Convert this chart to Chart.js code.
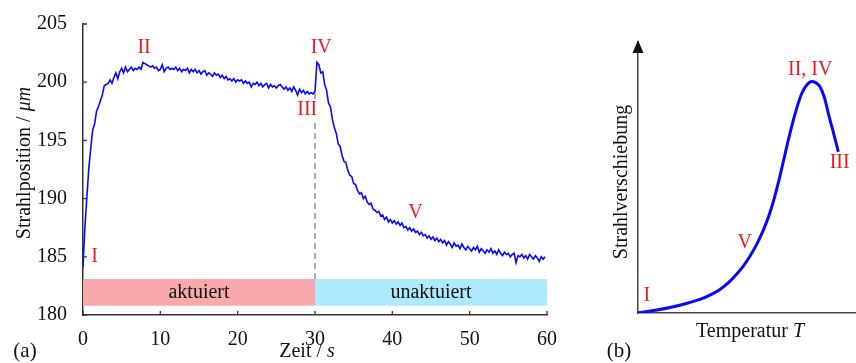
<!DOCTYPE html>
<html>
<head>
<meta charset="utf-8">
<script src="https://cdn.jsdelivr.net/npm/chart.js@4"></script>
<style>
  body { margin: 0; background: #fff; }
  #wrap { position: relative; width: 856px; height: 363px; }
  #chartA { position: absolute; left: 0; top: 0; }
  #chartB { position: absolute; left: 590px; top: 0; }
</style>
</head>
<body>
<div id="wrap">
  <canvas id="chartA" width="590" height="363"></canvas>
  <canvas id="chartB" width="266" height="363"></canvas>
</div>
<script>
// (a) Strahlposition ueber Zeit, abgetastet alle 0.25 s (0 .. 59.75 s)
var dt = 0.25;
var position = [
  184.1, 187.6, 190.1, 192.6,   // 0 s
  194.3, 195.9, 196.4, 197.5,   // 1 s
  197.9, 198.4, 198.9, 199.7,   // 2 s
  199.8, 199.9, 200.2, 199.9,   // 3 s
  200.4, 200.8, 200.3, 200.9,   // 4 s
  201.2, 200.8, 201.3, 200.9,   // 5 s
  201.1, 201.3, 201.0, 201.2,   // 6 s
  201.1, 201.3, 201.1, 201.7,   // 7 s
  201.6, 201.5, 201.4, 201.3,   // 8 s
  201.4, 201.2, 201.3, 201.0,   // 9 s
  201.1, 201.5, 200.9, 201.2,   // 10 s
  201.3, 201.1, 201.2, 201.1,   // 11 s
  201.3, 201.0, 201.2, 200.9,   // 12 s
  201.1, 201.0, 201.2, 200.8,   // 13 s
  201.1, 200.9, 201.1, 200.8,   // 14 s
  201.0, 200.7, 200.9, 201.0,   // 15 s
  200.6, 200.8, 200.7, 200.5,   // 16 s
  200.8, 200.6, 200.7, 200.4,   // 17 s
  200.6, 200.3, 200.5, 200.2,   // 18 s
  200.3, 200.1, 200.3, 200.0,   // 19 s
  200.2, 200.1, 200.2, 199.9,   // 20 s
  200.1, 199.9, 200.0, 199.6,   // 21 s
  199.9, 199.8, 200.0, 199.7,   // 22 s
  199.9, 199.6, 199.8, 199.9,   // 23 s
  199.5, 199.8, 199.6, 199.7,   // 24 s
  199.5, 199.7, 199.8, 199.6,   // 25 s
  199.4, 199.6, 199.3, 199.5,   // 26 s
  199.2, 199.6, 199.3, 198.9,   // 27 s
  199.4, 199.1, 199.3, 199.0,   // 28 s
  199.2, 199.0, 199.1, 199.0,   // 29 s
  199.2, 201.7, 201.5, 200.8,   // 30 s
  200.9, 199.8, 199.3, 198.2,   // 31 s
  197.9, 196.8, 196.1, 195.6,   // 32 s
  194.7, 194.5, 193.7, 193.2,   // 33 s
  193.1, 192.4, 192.0, 191.9,   // 34 s
  191.3, 191.2, 190.7, 190.4,   // 35 s
  190.5, 190.0, 190.2, 189.7,   // 36 s
  189.5, 189.6, 189.1, 189.0,   // 37 s
  188.8, 188.9, 188.5, 188.6,   // 38 s
  188.2, 188.4, 188.0, 188.2,   // 39 s
  187.9, 188.1, 187.8, 188.0,   // 40 s
  187.7, 187.9, 187.5, 187.6,   // 41 s
  187.3, 187.5, 187.2, 187.4,   // 42 s
  187.1, 187.2, 186.9, 187.1,   // 43 s
  186.8, 186.9, 186.6, 186.8,   // 44 s
  186.5, 186.7, 186.4, 186.6,   // 45 s
  186.3, 186.5, 186.2, 186.4,   // 46 s
  186.0, 186.3, 186.1, 185.8,   // 47 s
  186.2, 185.9, 186.0, 185.7,   // 48 s
  186.1, 185.8, 185.6, 185.9,   // 49 s
  185.7, 185.5, 185.8, 185.6,   // 50 s
  185.9, 185.4, 185.7, 185.5,   // 51 s
  185.3, 185.6, 185.4, 185.7,   // 52 s
  185.3, 185.5, 185.2, 185.6,   // 53 s
  185.3, 185.1, 185.4, 185.2,   // 54 s
  185.3, 185.0, 185.2, 185.3,   // 55 s
  184.5, 185.1, 185.0, 185.2,   // 56 s
  184.9, 185.1, 184.8, 185.2,   // 57 s
  185.0, 184.8, 185.1, 184.9,   // 58 s
  184.6, 185.0, 184.8, 185.0    // 59 s
];
var zeitTicks = [0, 10, 20, 30, 40, 50, 60];
var positionTicks = [180, 185, 190, 195, 200, 205];

// Phasen-Balken
var phasen = ['aktuiert', 'unaktuiert'];
var phasenStart = [0, 30];
var phasenEnde = [30, 60];
var phasenFarbe = ['#f9a9ab', '#adebfb'];
var balkenUnten = 180.8;
var balkenOben = 183.1;
var umschaltZeit = 30;
var umschaltOben = 199.1;

// Markierungen in (a)
var markenA = ['I', 'II', 'III', 'IV', 'V'];
var markenAx = [1.5, 7.9, 29.0, 30.8, 43.0];
var markenAy = [185.0, 203.0, 197.6, 203.0, 188.8];

// (b) schematische Kurve
var temperatur = [0, 0.8, 1.62, 2.3, 2.84, 3.3, 3.76, 4.15, 4.53, 4.85, 5.14, 5.45, 5.75, 6.0, 6.21,
  6.45, 6.67, 6.9, 7.12, 7.32, 7.51, 7.75, 7.97, 8.15, 8.35, 8.55, 8.73, 8.95, 9.19];
var verschiebung = [0.01, 0.1, 0.23, 0.37, 0.5, 0.66, 0.87, 1.12, 1.44, 1.75, 2.1, 2.54, 3.06, 3.58, 4.12,
  4.85, 5.6, 6.4, 7.1, 7.66, 8.1, 8.42, 8.54, 8.5, 8.35, 7.95, 7.37, 6.7, 5.95];
var markenB = ['I', 'V', 'II, IV', 'III'];
var markenBx = [0.4, 4.9, 7.9, 9.25];
var markenBy = [0.65, 2.6, 8.97, 5.55];

var serif = "'Liberation Serif', 'Times New Roman', serif";
var rot = '#f01818';
var blau = '#0a0af2';

var zeit = position.map(function(v, i) { return i * dt; });
var kurveA = position.map(function(v, i) { return {x: zeit[i], y: v}; });
var kurveB = temperatur.map(function(t, i) { return {x: t, y: verschiebung[i]}; });

// Text aus Teilen (normal/kursiv) zentriert zeichnen
function mixedText(ctx, parts, x, y, size, angle) {
  ctx.save();
  ctx.translate(x, y);
  if (angle) ctx.rotate(angle);
  ctx.textBaseline = 'middle';
  ctx.textAlign = 'left';
  ctx.fillStyle = '#111';
  var total = 0;
  parts.forEach(function(p) {
    ctx.font = (p[1] ? 'italic ' : '') + size + 'px ' + serif;
    total += ctx.measureText(p[0]).width;
  });
  var cx = -total / 2;
  parts.forEach(function(p) {
    ctx.font = (p[1] ? 'italic ' : '') + size + 'px ' + serif;
    ctx.fillText(p[0], cx, 0);
    cx += ctx.measureText(p[0]).width;
  });
  ctx.restore();
}

var extrasA = {
  id: 'extrasA',
  afterDatasetsDraw: function(chart) {
    var ctx = chart.ctx, xs = chart.scales.x, ys = chart.scales.y;
    var area = chart.chartArea;
    ctx.save();
    // nach innen zeigende Ticks
    ctx.strokeStyle = '#333';
    ctx.lineWidth = 1.3;
    ctx.beginPath();
    zeitTicks.forEach(function(t) {
      var px = xs.getPixelForValue(t);
      ctx.moveTo(px, area.bottom);
      ctx.lineTo(px, area.bottom - 4);
    });
    positionTicks.forEach(function(t) {
      var py = ys.getPixelForValue(t);
      ctx.moveTo(area.left, py);
      ctx.lineTo(area.left + 4, py);
    });
    ctx.stroke();
    // Phasen-Beschriftung
    ctx.font = '20px ' + serif;
    ctx.fillStyle = '#111';
    ctx.textAlign = 'center';
    ctx.textBaseline = 'middle';
    phasen.forEach(function(p, i) {
      var px = xs.getPixelForValue((phasenStart[i] + phasenEnde[i]) / 2);
      var py = ys.getPixelForValue((balkenUnten + balkenOben) / 2);
      ctx.fillText(p, px, py);
    });
    // rote Markierungen
    markenA.forEach(function(m, i) {
      var px = xs.getPixelForValue(markenAx[i]);
      var py = ys.getPixelForValue(markenAy[i]);
      if (m === 'III') {
        var w = ctx.measureText(m).width;
        ctx.fillStyle = '#fff';
        ctx.fillRect(px - w / 2 - 1, py - 9, w + 2, 18);
      }
      ctx.fillStyle = rot;
      ctx.fillText(m, px, py);
    });
    ctx.restore();
    mixedText(ctx, [['Zeit / ', false], ['s', true]], 307, 352, 20, 0);
    mixedText(ctx, [['Strahlposition / ', false], ['\u03bcm', true]], 25, 163, 20, -Math.PI / 2);
    mixedText(ctx, [['(a)', false]], 25, 351, 21, 0);
  }
};

new Chart(document.getElementById('chartA'), {
  type: 'line',
  data: {
    datasets: [
      {data: kurveA, borderColor: blau, borderWidth: 1.6, pointRadius: 0, tension: 0, fill: false},
      {data: [{x: umschaltZeit, y: balkenOben}, {x: umschaltZeit, y: umschaltOben}],
        borderColor: '#999', borderWidth: 1.6, borderDash: [6, 4], pointRadius: 0, fill: false},
      {data: [{x: phasenStart[0], y: balkenOben}, {x: phasenEnde[0], y: balkenOben}],
        borderWidth: 0, pointRadius: 0, backgroundColor: phasenFarbe[0], fill: {value: balkenUnten}},
      {data: [{x: phasenStart[1], y: balkenOben}, {x: phasenEnde[1], y: balkenOben}],
        borderWidth: 0, pointRadius: 0, backgroundColor: phasenFarbe[1], fill: {value: balkenUnten}}
    ]
  },
  options: {
    responsive: false,
    animation: false,
    events: [],
    layout: {padding: {left: 0, top: 24, right: 43, bottom: 0}},
    plugins: {legend: {display: false}, tooltip: {enabled: false}},
    scales: {
      x: {
        type: 'linear', min: 0, max: 60,
        afterFit: function(s) { s.height = 48; },
        afterBuildTicks: function(s) { s.ticks = zeitTicks.map(function(v) { return {value: v}; }); },
        grid: {display: false},
        border: {display: true, color: '#333', width: 1.5},
        ticks: {color: '#111', padding: 5, maxRotation: 0, font: {family: serif, size: 20}}
      },
      y: {
        type: 'linear', min: 180, max: 205,
        afterFit: function(s) { s.width = 83; },
        afterBuildTicks: function(s) { s.ticks = positionTicks.map(function(v) { return {value: v}; }); },
        grid: {display: false},
        border: {display: true, color: '#333', width: 1.5},
        ticks: {color: '#111', padding: 8, font: {family: serif, size: 20}}
      }
    }
  },
  plugins: [extrasA]
});

var extrasB = {
  id: 'extrasB',
  afterDatasetsDraw: function(chart) {
    var ctx = chart.ctx, xs = chart.scales.x, ys = chart.scales.y;
    var area = chart.chartArea;
    ctx.save();
    // Pfeilspitze an der y-Achse
    ctx.fillStyle = '#111';
    ctx.beginPath();
    ctx.moveTo(area.left, area.top - 2);
    ctx.lineTo(area.left - 5.5, area.top + 11);
    ctx.lineTo(area.left + 5.5, area.top + 11);
    ctx.closePath();
    ctx.fill();
    ctx.font = '20px ' + serif;
    ctx.textAlign = 'center';
    ctx.textBaseline = 'middle';
    ctx.fillStyle = rot;
    markenB.forEach(function(m, i) {
      ctx.fillText(m, xs.getPixelForValue(markenBx[i]), ys.getPixelForValue(markenBy[i]));
    });
    ctx.restore();
    mixedText(ctx, [['Temperatur ', false], ['T', true]], 160, 332, 20, 0);
    mixedText(ctx, [['Strahlverschiebung', false]], 32, 182, 20, -Math.PI / 2);
    mixedText(ctx, [['(b)', false]], 29, 351, 21, 0);
  }
};

new Chart(document.getElementById('chartB'), {
  type: 'line',
  data: {
    datasets: [
      {data: kurveB, borderColor: blau, borderWidth: 3, pointRadius: 0,
        cubicInterpolationMode: 'monotone', fill: false}
    ]
  },
  options: {
    responsive: false,
    animation: false,
    events: [],
    layout: {padding: {left: 0, top: 42, right: 0, bottom: 0}},
    plugins: {legend: {display: false}, tooltip: {enabled: false}},
    scales: {
      x: {
        type: 'linear', min: 0, max: 10,
        afterFit: function(s) { s.height = 50; },
        grid: {display: false},
        border: {display: true, color: '#444', width: 1.5},
        ticks: {display: false}
      },
      y: {
        type: 'linear', min: 0, max: 10,
        afterFit: function(s) { s.width = 48; },
        grid: {display: false},
        border: {display: true, color: '#444', width: 1.5},
        ticks: {display: false}
      }
    }
  },
  plugins: [extrasB]
});
</script>
</body>
</html>
